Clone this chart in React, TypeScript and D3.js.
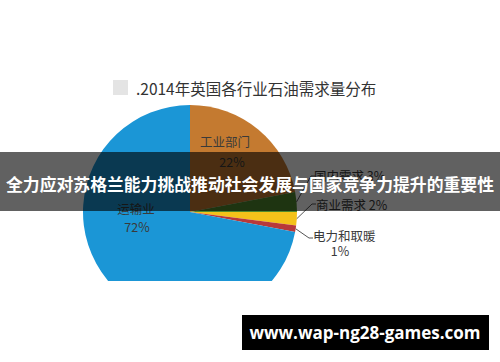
import React, { useEffect, useRef } from 'react';
import * as d3 from 'd3';

// slice order follows the picture, clockwise from 12 o'clock
const sectors = ['工业部门', '国内需求', '商业需求', '电力和取暖', '运输业'];
const shares = [22, 3, 2, 1, 72];
const sliceColors = ['#c47a30', '#4f8a2e', '#f4c21a', '#b8393a', '#1b96d6'];

const chartTitle = '.2014年英国各行业石油需求量分布';
const bannerText = '全力应对苏格兰能力挑战推动社会发展与国家竞争力提升的重要性';
const siteText = 'www.wap-ng28-games.com';

const width = 500;
const height = 362;

const PieChart: React.FC = () => {
    const svgRef = useRef<SVGSVGElement>(null);

    useEffect(() => {
        if (!svgRef.current) return;
        const svg = d3.select(svgRef.current);
        svg.selectAll('*').remove();

        const cx = 190;
        const cy = 212;
        const radius = 107;
        const font = '"Noto Sans CJK SC", "Noto Sans", sans-serif';

        svg.append('rect').attr('width', width).attr('height', height).attr('fill', '#fff');

        // title with grey legend-ish square
        svg.append('rect')
            .attr('x', 113).attr('y', 80).attr('width', 15).attr('height', 15)
            .attr('fill', '#e4e4e4');
        svg.append('text')
            .attr('x', 136).attr('y', 95)
            .attr('font-family', font).attr('font-size', 15.5)
            .attr('fill', '#333')
            .text(chartTitle);

        const data = sectors.map((s, i) => ({ label: s, value: shares[i], color: sliceColors[i] }));

        const pie = d3.pie<typeof data[0]>()
            .value(d => d.value)
            .sort(null);
        const arcs = pie(data);

        const arc = d3.arc<d3.PieArcDatum<typeof data[0]>>()
            .innerRadius(0)
            .outerRadius(radius);

        // the bottom of the pie is cropped in the picture
        svg.append('defs').append('clipPath').attr('id', 'pieClip')
            .append('rect').attr('x', 0).attr('y', 0).attr('width', width).attr('height', 281);

        const g = svg.append('g')
            .attr('clip-path', 'url(#pieClip)')
            .append('g')
            .attr('transform', `translate(${cx},${cy})`);

        g.selectAll('path')
            .data(arcs)
            .enter()
            .append('path')
            .attr('d', arc)
            .attr('fill', d => d.data.color);

        const labelStyle = (t: d3.Selection<SVGTextElement, unknown, null, undefined>) =>
            t.attr('font-family', font).attr('font-size', 12.5).attr('fill', '#3a3a3a');

        // inside labels
        const inside: [string, number, number][] = [
            [sectors[0], 225, 147],
            [`${shares[0]}%`, 232, 167],
            [sectors[4], 136, 214],
            [`${shares[4]}%`, 137, 232],
        ];
        inside.forEach(([txt, x, y]) => {
            labelStyle(svg.append('text') as any)
                .attr('x', x).attr('y', y)
                .attr('text-anchor', 'middle')
                .text(txt);
        });

        // outside labels with leader lines
        const outside: { idx: number; elbow: [number, number]; lines: string[]; tx: number; ty: number }[] = [
            { idx: 1, elbow: [311, 176], lines: [`${sectors[1]} ${shares[1]}%`], tx: 314, ty: 181 },
            { idx: 2, elbow: [312, 204], lines: [`${sectors[2]} ${shares[2]}%`], tx: 316, ty: 210 },
            { idx: 3, elbow: [309, 238], lines: [sectors[3], `${shares[3]}%`], tx: 313, ty: 241 },
        ];
        outside.forEach(o => {
            const a = arcs[o.idx];
            const mid = (a.startAngle + a.endAngle) / 2;
            const sx = cx + Math.sin(mid) * radius;
            const sy = cy - Math.cos(mid) * radius;
            svg.append('path')
                .attr('d', `M${sx},${sy}L${o.elbow[0]},${o.elbow[1]}L${o.elbow[0] + 4},${o.elbow[1]}`)
                .attr('fill', 'none')
                .attr('stroke', '#555')
                .attr('stroke-width', 1);
            o.lines.forEach((ln, i) => {
                const t = labelStyle(svg.append('text') as any)
                    .attr('y', o.ty + i * 15)
                    .text(ln);
                if (i === 0) t.attr('x', o.tx);
                else t.attr('x', o.tx + 27).attr('text-anchor', 'middle');
            });
        });

        // dark banner across the chart
        svg.append('rect')
            .attr('x', 0).attr('y', 152).attr('width', width).attr('height', 59)
            .attr('fill', '#000').attr('fill-opacity', 0.62);
        svg.append('text')
            .attr('x', 6).attr('y', 191)
            .attr('font-family', font).attr('font-size', 17.2).attr('font-weight', 'bold')
            .attr('textLength', 488).attr('lengthAdjust', 'spacingAndGlyphs')
            .attr('fill', '#fff')
            .text(bannerText);

        // watermark box
        svg.append('rect')
            .attr('x', 242).attr('y', 315).attr('width', 247).attr('height', 35)
            .attr('fill', '#000');
        svg.append('text')
            .attr('x', 365).attr('y', 339)
            .attr('text-anchor', 'middle')
            .attr('font-family', '"Open Sans", "DejaVu Sans", sans-serif').attr('font-size', 17).attr('font-weight', 'bold')
            .attr('fill', '#fff')
            .text(siteText);
    }, []);

    return <svg ref={svgRef} width={width} height={height} style={{ position: 'absolute', left: 0, top: 0 }}></svg>;
};

export default function App() {
    return <PieChart />;
}
